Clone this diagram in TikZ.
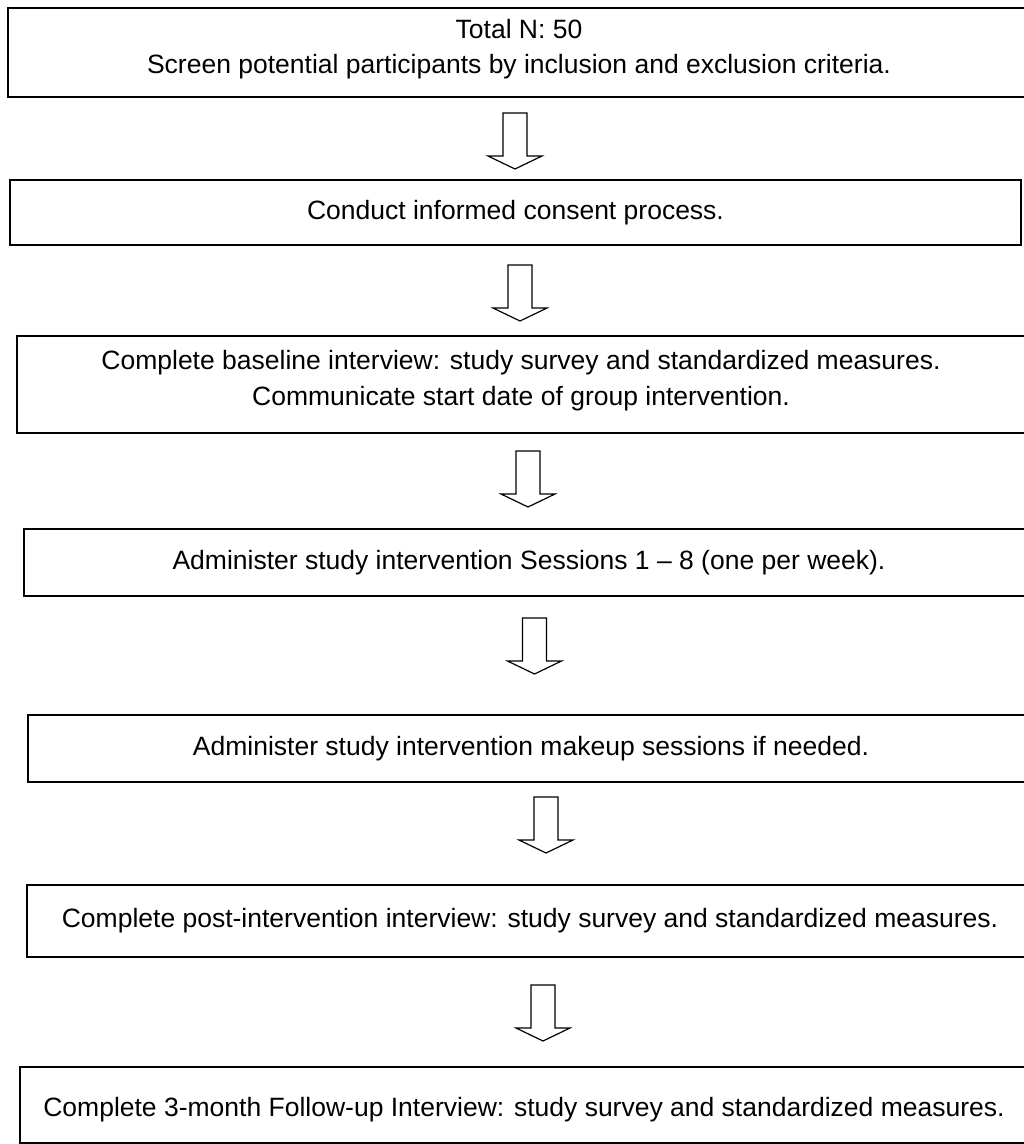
\documentclass[tikz,border=0pt]{standalone}
\usepackage{fontspec}
\setmainfont{Liberation Sans}
\begin{document}
\begin{tikzpicture}[x=1pt,y=-1pt,
  box/.style={draw=black, line width=1.5pt, fill=white, inner sep=0pt, align=center,
    font=\fontsize{26.5}{36}\selectfont},
  txt/.style={align=center, inner sep=0pt, font=\fontsize{26.5}{36}\selectfont},
  barrow/.pic={\draw[line width=1.2pt, fill=white, line join=miter]
    (-12,0) -- (12,0) -- (12,43) -- (27,43) -- (0,56) -- (-27,43) -- (-12,43) -- cycle;}]
\useasboundingbox (0,0) rectangle (1024,1144);
\clip (0,0) rectangle (1024,1144);
\fill[white] (0,0) rectangle (1024,1144);

\node[box, minimum width=1022pt, minimum height=89pt] (b1) at (519,52.5) {};
\node[txt, font=\fontsize{26.5}{35}\selectfont] (t1) at (519,49)
  {Total N: 50\\Screen potential participants by inclusion and exclusion criteria.};
\node[box, minimum width=1011pt, minimum height=65pt] (b2) at (515.5,212.5)
  {Conduct informed consent process.};
\node[box, minimum width=1008pt, minimum height=97pt] (b3) at (521,384.5) {};
\node[txt] (t3) at (521,381)
  {Complete baseline interview: study survey and standardized measures.\\Communicate start date of group intervention.};
\node[box, minimum width=1010pt, minimum height=67pt] (b4) at (529,562.5)
  {Administer study intervention Sessions 1 -- 8 (one per week).};
\node[box, minimum width=1006pt, minimum height=67pt] (b5) at (531,748.5)
  {Administer study intervention makeup sessions if needed.};
\node[box, minimum width=1006pt, minimum height=72pt] (b6) at (530,921)
  {Complete post-intervention interview: study survey and standardized measures.};
\node[box, minimum width=1008pt, minimum height=76pt] (b7) at (524,1105) {};
\node[txt] (t7) at (524,1110)
  {Complete 3-month Follow-up Interview: study survey and standardized measures.};

\pic at (515,113) {barrow};
\pic at (520,265) {barrow};
\pic at (528,451) {barrow};
\pic at (534.5,618) {barrow};
\pic at (546,797) {barrow};
\pic at (543,985) {barrow};
\end{tikzpicture}
\end{document}
